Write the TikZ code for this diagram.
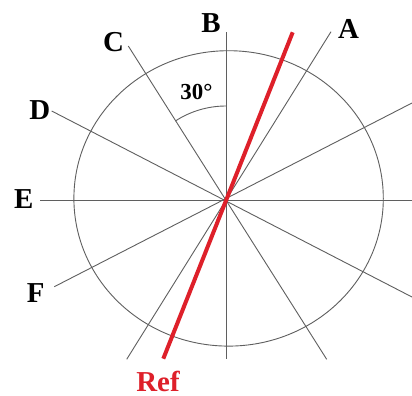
\documentclass[tikz,border=0pt]{standalone}
\usepackage{fontspec}
\setmainfont{Liberation Serif}
\definecolor{refred}{RGB}{222,32,42}
\definecolor{linegray}{RGB}{95,95,95}
\begin{document}
\begin{tikzpicture}[x=1bp,y=-1bp,
  axis/.style={draw=linegray,line width=0.9bp},
  lbl/.style={inner sep=0pt,anchor=base,font=\fontsize{29}{29}\selectfont\bfseries},
  anglbl/.style={inner sep=0pt,anchor=base,font=\fontsize{23}{23}\selectfont\bfseries},
  refline/.style={draw=refred,line width=4bp}]
\useasboundingbox (0,0) rectangle (412,396);
\fill[white] (0,0) rectangle (412,396);
% circle
\draw[linegray,line width=0.9bp] (228.6,198.4) ellipse [x radius=154.7bp, y radius=147.7bp];
% line end points
\coordinate (O) at (226,200);
\coordinate (Bt) at (226,32);   \coordinate (Bb) at (226,359);
\coordinate (Et) at (40,200);   \coordinate (Eb) at (412,200);
\coordinate (At) at (331,31.7); \coordinate (Ab) at (126.7,359.3);
\coordinate (Ct) at (128.3,46); \coordinate (Cb) at (326.7,359.3);
\coordinate (Dt) at (51.7,111); \coordinate (Db) at (412,297);
\coordinate (Ft) at (54.3,286.7); \coordinate (Fb) at (412,103);
\coordinate (Rt) at (292.7,32.3); \coordinate (Rb) at (163.3,358.7);
\draw[axis] (Bt) -- (Bb);
\draw[axis] (Et) -- (Eb);
\draw[axis] (At) -- (Ab);
\draw[axis] (Ct) -- (Cb);
\draw[axis] (Dt) -- (Db);
\draw[axis] (Ft) -- (Fb);
% angle arc
\draw[linegray,line width=0.9bp] (226,106) arc[start angle=90, end angle=123, radius=93bp];
% red reference line
\draw[refline] (Rt) -- (Rb);
% labels
\node[lbl] (lB) at (211,32.3) {B};
\node[lbl] (lA) at (348.5,38.3) {A};
\node[lbl] (lC) at (113.5,51.5) {C};
\node[lbl] (lD) at (39.7,119) {D};
\node[lbl] (lE) at (23.7,208.3) {E};
\node[lbl] (lF) at (35.8,302) {F};
\node[lbl,text=refred] (lR) at (158,391) {Ref};
\node[anglbl] (ang) at (196.5,99) {30°};
\end{tikzpicture}
\end{document}
